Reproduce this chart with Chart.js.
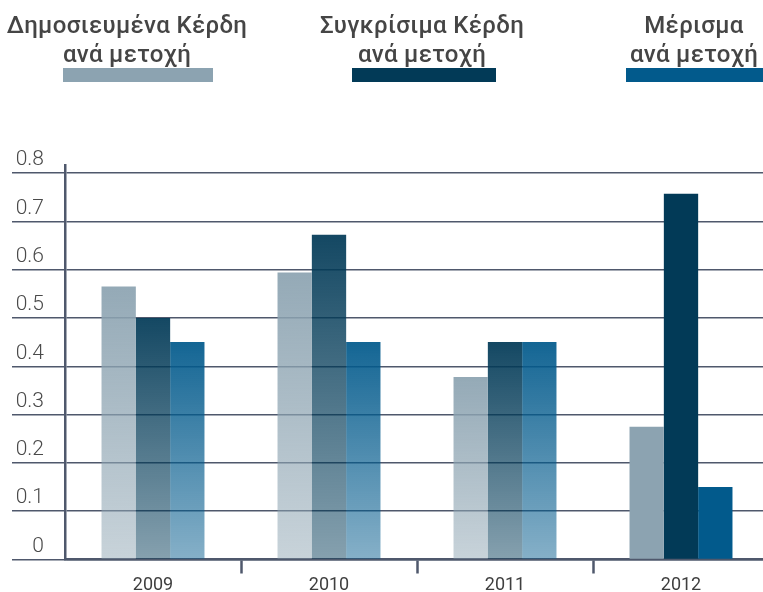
<!DOCTYPE html>
<html>
<head>
<meta charset="utf-8">
<script src="https://cdn.jsdelivr.net/npm/chart.js@4/dist/chart.umd.min.js"></script>
<style>
  html, body { margin: 0; padding: 0; background: #fff; overflow: hidden; width: 763px; height: 592px; }
  #wrap { position: relative; width: 772px; height: 592px; }
  #chart { position: absolute; left: 0; top: 0; }
  .leg { position: absolute; top: 11px; font-family: "Roboto", "Noto Sans", sans-serif; font-weight: 500; font-size: 24px; letter-spacing: 0.35px; line-height: 29px; color: #454545; }
  .leg .txt { white-space: nowrap; }
  .leg .sw { position: absolute; height: 14px; top: 57px; }
</style>
</head>
<body>
<div id="wrap">
  <canvas id="chart" width="772" height="592"></canvas>
  <div id="legend"></div>
</div>
<script>
// ---- data ----
const categories = ['2009', '2010', '2011', '2012'];
const reportedEPS = [0.565, 0.594, 0.378, 0.275];
const comparableEPS = [0.50, 0.672, 0.45, 0.757];
const dividendPS = [0.45, 0.45, 0.45, 0.15];
const seriesNames = [
  ['Δημοσιευμένα Κέρδη', 'ανά μετοχή'],
  ['Συγκρίσιμα Κέρδη', 'ανά μετοχή'],
  ['Μέρισμα', 'ανά μετοχή']
];
const yTicks = [0, 0.1, 0.2, 0.3, 0.4, 0.5, 0.6, 0.7, 0.8];
const yTickLabels = ['0', '0.1', '0.2', '0.3', '0.4', '0.5', '0.6', '0.7', '0.8'];

// ---- styles ----
const baseColors = [[140, 163, 177], [2, 58, 87], [2, 90, 140]];
const solidCategory = '2012';
const gridColor = '#4f586c';

function rgba(c, a) { return `rgba(${c[0]},${c[1]},${c[2]},${a})`; }

function barFill(seriesIdx) {
  return (ctx) => {
    const c = baseColors[seriesIdx];
    if (ctx.type !== 'data') return rgba(c, 1);
    if (categories[ctx.dataIndex] === solidCategory) return rgba(c, 1);
    const chart = ctx.chart;
    const ys = chart.scales.y;
    if (!chart.chartArea || !ys) return rgba(c, 0.8);
    const top = ys.getPixelForValue(ctx.raw);
    const bottom = ys.getPixelForValue(0);
    if (!isFinite(top) || !isFinite(bottom) || top === bottom) return rgba(c, 0.8);
    const g = chart.ctx.createLinearGradient(0, top, 0, bottom);
    g.addColorStop(0, rgba(c, 0.93));
    g.addColorStop(1, rgba(c, 0.48));
    return g;
  };
}

const datasets = [reportedEPS, comparableEPS, dividendPS].map((d, i) => ({
  label: seriesNames[i].join(' '),
  data: d,
  backgroundColor: barFill(i),
  borderWidth: 0,
  categoryPercentage: 0.585,
  barPercentage: 1.0
}));

new Chart(document.getElementById('chart'), {
  type: 'bar',
  data: { labels: categories, datasets },
  options: {
    responsive: false,
    animation: false,
    events: [],
    layout: { padding: { top: 165, right: 3, left: 0, bottom: 0 } },
    plugins: { legend: { display: false }, tooltip: { enabled: false } },
    scales: {
      x: {
        afterFit: (s) => { s.height = 32.5; },
        grid: {
          offset: true,
          drawOnChartArea: false,
          drawTicks: true,
          tickLength: 14,
          tickWidth: 2.5,
          tickColor: (ctx) => (ctx.index === 0 || ctx.index >= categories.length) ? 'rgba(0,0,0,0)' : gridColor
        },
        border: { display: true, color: gridColor, width: 2.5 },
        ticks: {
          color: '#3f3f3f',
          padding: 1,
          font: { family: 'Roboto, "Noto Sans", sans-serif', size: 18, weight: '400' }
        }
      },
      y: {
        min: 0,
        max: 0.8166,
        afterFit: (s) => { s.width = 65; },
        afterBuildTicks: (s) => { s.ticks = yTicks.map(v => ({ value: v })); },
        grid: {
          color: gridColor,
          lineWidth: 1.5,
          drawTicks: true,
          tickLength: 53,
          tickColor: gridColor,
          tickWidth: 1.5
        },
        border: { display: true, color: gridColor, width: 2.5 },
        ticks: {
          padding: -32,
          labelOffset: -13,
          color: '#4a4a4a',
          font: { family: 'Roboto, "Noto Sans", sans-serif', size: 21, weight: '300' },
          callback: (v, i) => yTickLabels[i]
        }
      }
    }
  }
});

// ---- HTML legend built from series ----
const legendBoxes = [
  { center: 127, swLeft: 63, swRight: 213 },
  { center: 422, swLeft: 352, swRight: 496 },
  { center: 694, swLeft: 626, swRight: 763 }
];
const legend = document.getElementById('legend');
seriesNames.forEach((lines, i) => {
  const b = legendBoxes[i];
  const el = document.createElement('div');
  el.className = 'leg';
  el.style.left = (b.center - 150) + 'px';
  el.style.width = '300px';
  el.style.textAlign = 'center';
  lines.forEach(t => {
    const d = document.createElement('div');
    d.className = 'txt';
    d.textContent = t;
    el.appendChild(d);
  });
  const sw = document.createElement('div');
  sw.className = 'sw';
  sw.style.left = (b.swLeft - (b.center - 150)) + 'px';
  sw.style.width = (b.swRight - b.swLeft) + 'px';
  sw.style.background = rgba(baseColors[i], 1);
  el.appendChild(sw);
  legend.appendChild(el);
});
</script>
</body>
</html>
